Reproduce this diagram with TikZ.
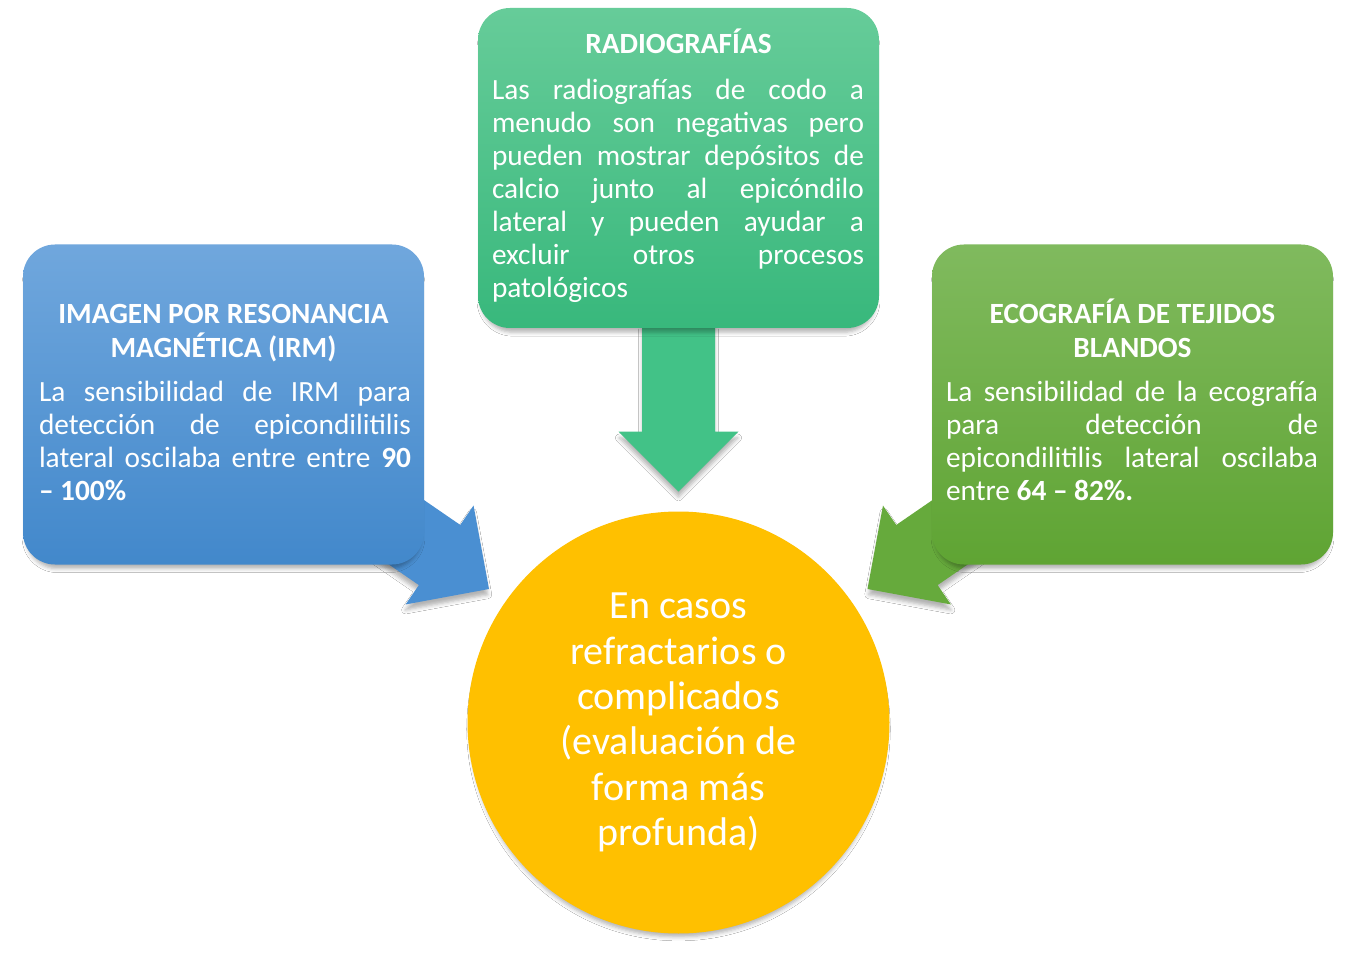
\documentclass[tikz,border=0pt]{standalone}
\usepackage{fontspec}
\setmainfont{Carlito}
\usetikzlibrary{positioning,calc,shadows.blur}
\definecolor{radioTop}{HTML}{66CC99}
\definecolor{radioBot}{HTML}{38B87C}
\definecolor{radioArrow}{HTML}{42C287}
\definecolor{irmTop}{HTML}{70A7DD}
\definecolor{irmBot}{HTML}{4288CB}
\definecolor{irmArrow}{HTML}{4A8FD2}
\definecolor{ecoTop}{HTML}{80BA5E}
\definecolor{ecoBot}{HTML}{5FA433}
\definecolor{ecoArrow}{HTML}{66AA3C}
\definecolor{focusFill}{HTML}{FFC000}
\hbadness=10000
\newcommand{\jline}[1]{\hbox to 279pt{#1}}

\begin{document}
\begin{tikzpicture}[
  x=0.75pt, y=-0.75pt,
  every node/.style={text=white},
  softshadow/.style={blur shadow={shadow xshift=0pt, shadow yshift=-5pt,
                     shadow scale=0.985, shadow blur radius=3pt, shadow opacity=30}},
  panel/.style={rounded corners=24pt, minimum width=300.75pt,
                minimum height=240pt, inner sep=0pt, softshadow},
  ptitle/.style={font=\fontsize{22}{25.5}\selectfont\bfseries, align=center,
                 inner sep=0pt, anchor=base},
  pbody/.style={font=\fontsize{22}{24.75}\selectfont, align=left,
                inner sep=0pt, anchor=base west}
]
\useasboundingbox (0,0) rectangle (1354,959);
\fill[white] (0,0) rectangle (1354,959);

% centre
\node[circle, fill=focusFill, minimum size=316.5pt, inner sep=0pt, softshadow,
      align=center, font=\fontsize{30}{34}\selectfont] (focus) at (678.5,722.5)
  {En casos\\refractarios o\\complicados\\(evaluación de\\forma más\\profunda)};

% arrow tips
\coordinate (tipR) at ($(focus.north)+(0,-19.5)$);
\coordinate (tipI) at ($(focus.center)+(-189.5,-133.5)$);
\coordinate (tipE) at ($(focus.center)+(189,-133.5)$);
\foreach \tip/\ang/\col in {tipR/0/radioArrow, tipI/55.5/irmArrow, tipE/-55.5/ecoArrow}
  \fill[fill=\col, shift={(\tip)}, rotate=\ang, softshadow]
    (0,0) -- (60,-60) -- (36.5,-60) -- (36.5,-170) -- (-36.5,-170)
    -- (-36.5,-60) -- (-60,-60) -- cycle;

% panels
\node[panel, top color=radioTop, bottom color=radioBot] (radio) at (678.5,168) {};
\node[panel, top color=irmTop, bottom color=irmBot] (irm) at (223.5,404.5) {};
\node[panel, top color=ecoTop, bottom color=ecoBot] (eco) at (1132.5,404.5) {};

% texts (base = last line)
\node[ptitle] (radioT) at ($(radio.north)+(0,46)$) {RADIOGRAFÍAS};
\node[pbody] (radioB) at ($(radio.north west)+(14,290)$)
  {\jline{Las radiografías de codo a}\\
   \jline{menudo son negativas pero}\\
   \jline{pueden mostrar depósitos de}\\
   \jline{calcio junto al epicóndilo}\\
   \jline{lateral y pueden ayudar a}\\
   \jline{excluir otros procesos}\\
   patológicos};

\node[ptitle] (irmT) at ($(irm.north)+(0,113)$) {IMAGEN POR RESONANCIA\\MAGNÉTICA (IRM)};
\node[pbody] (irmB) at ($(irm.north west)+(16,256)$)
  {\jline{La sensibilidad de IRM para}\\
   \jline{detección de epicondilitilis}\\
   \jline{lateral oscilaba entre entre \textbf{90}}\\
   \textbf{– 100\%}};

\node[ptitle] (ecoT) at ($(eco.north)+(0,113)$) {ECOGRAFÍA DE TEJIDOS\\BLANDOS};
\node[pbody] (ecoB) at ($(eco.north west)+(14,256)$)
  {\jline{La sensibilidad de la ecografía}\\
   \jline{para detección de}\\
   \jline{epicondilitilis lateral oscilaba}\\
   entre \textbf{64 – 82\%.}};
\end{tikzpicture}
\end{document}
